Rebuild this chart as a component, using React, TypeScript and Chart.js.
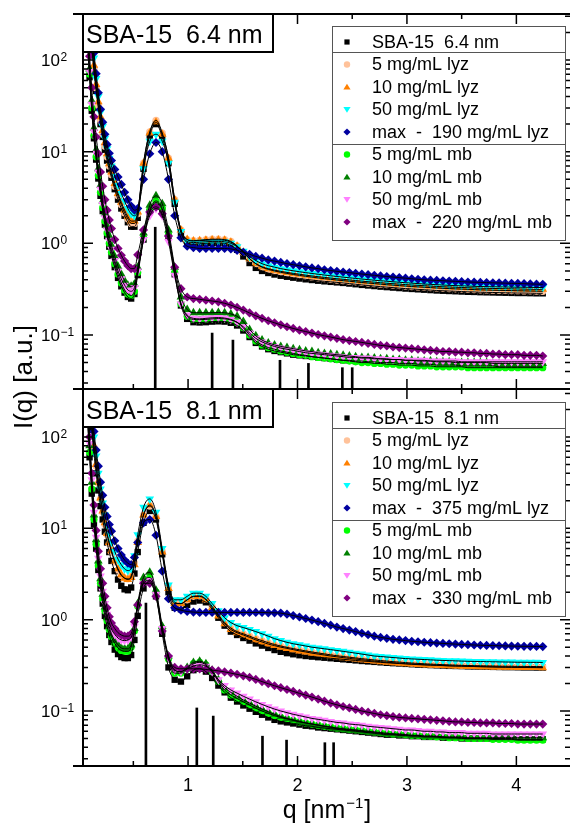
import React, { useEffect, useRef } from 'react';
import { Chart, registerables } from 'chart.js';

Chart.register(...registerables);

const W = 575;
const H = 824;
const FONT = '"Liberation Sans", Arial, Helvetica, sans-serif';

// ---------------- data ----------------
const Q = [
  0.08, 0.1, 0.12, 0.14, 0.16, 0.18, 0.2, 0.22, 0.24, 0.26, 0.28, 0.3,
  0.33, 0.36, 0.39, 0.42, 0.45, 0.48, 0.51, 0.54,
  0.593, 0.65, 0.707, 0.764, 0.821, 0.878, 0.935, 0.992,
  1.049, 1.106, 1.163, 1.22, 1.277, 1.334, 1.391, 1.448, 1.505, 1.562, 1.619, 1.676,
  1.733, 1.79, 1.847, 1.904, 1.961, 2.018, 2.075, 2.132, 2.189, 2.246, 2.303, 2.36,
  2.417, 2.474, 2.531, 2.588, 2.645, 2.702, 2.759, 2.816, 2.873, 2.93, 2.987, 3.044,
  3.101, 3.158, 3.215, 3.272, 3.329, 3.386, 3.443, 3.5, 3.557, 3.614, 3.671, 3.728,
  3.785, 3.842, 3.899, 3.956, 4.013, 4.07, 4.127, 4.184, 4.241,
];

// Top panel: SBA-15 6.4 nm
const T_SBA_HI = [
  600, 280, 140, 76, 46, 30, 20, 14.5, 10.5, 8.0, 6.4, 5.2,
  3.9, 3.0, 2.4, 2.0, 1.7, 1.52, 1.52, 1.9,
  6.5, 15, 20, 14.5, 7.5, 2.7, 1.3, 1.02,
  0.98, 0.99, 1.0, 1.01, 1.01, 1.0, 0.95, 0.85, 0.72, 0.61, 0.54, 0.5,
  0.475, 0.457, 0.443, 0.432, 0.422, 0.413, 0.405, 0.398, 0.391, 0.385, 0.38, 0.375,
  0.37, 0.364, 0.358, 0.352, 0.347, 0.342, 0.337, 0.333, 0.329, 0.325, 0.321, 0.318,
  0.315, 0.312, 0.309, 0.306, 0.304, 0.302, 0.3, 0.298, 0.296, 0.295, 0.293, 0.292,
  0.291, 0.29, 0.289, 0.288, 0.287, 0.287, 0.286, 0.285, 0.285,
];
const T_LYZ5 = [
  650, 300, 150, 82, 50, 32, 22, 15.5, 11.5, 8.8, 7.0, 5.6,
  4.2, 3.3, 2.65, 2.15, 1.85, 1.65, 1.65, 2.1,
  7.5, 16.5, 22, 16, 8.5, 3.0, 1.4, 1.1,
  1.07, 1.08, 1.1, 1.11, 1.11, 1.1, 1.05, 0.94, 0.8, 0.68, 0.6, 0.55,
  0.52, 0.5, 0.483, 0.47, 0.458, 0.447, 0.437, 0.428, 0.42, 0.412, 0.405, 0.398,
  0.392, 0.386, 0.38, 0.374, 0.369, 0.364, 0.359, 0.354, 0.35, 0.346, 0.342, 0.338,
  0.335, 0.332, 0.329, 0.326, 0.323, 0.321, 0.319, 0.317, 0.315, 0.313, 0.311, 0.31,
  0.308, 0.307, 0.306, 0.305, 0.304, 0.303, 0.302, 0.301, 0.3,
];
const T_LYZ10 = [
  700, 330, 160, 88, 54, 35, 24, 17, 12.5, 9.5, 7.4, 6.0,
  4.5, 3.5, 2.8, 2.3, 1.95, 1.75, 1.75, 2.2,
  7.5, 16, 21, 15.5, 8.5, 3.0, 1.4, 1.1,
  1.06, 1.07, 1.08, 1.09, 1.09, 1.08, 1.03, 0.93, 0.8, 0.68, 0.6, 0.555,
  0.53, 0.51, 0.495, 0.482, 0.47, 0.46, 0.45, 0.441, 0.433, 0.425, 0.418, 0.411,
  0.405, 0.399, 0.393, 0.387, 0.382, 0.377, 0.372, 0.367, 0.363, 0.359, 0.355, 0.351,
  0.348, 0.345, 0.342, 0.339, 0.336, 0.334, 0.332, 0.33, 0.328, 0.326, 0.324, 0.323,
  0.322, 0.321, 0.32, 0.319, 0.318, 0.317, 0.316, 0.315, 0.315,
];
const T_LYZ50 = [
  800, 380, 180, 105, 63, 40, 27, 19, 14, 10.8, 8.5, 7.0,
  5.4, 4.3, 3.5, 2.9, 2.4, 2.1, 2.0, 2.3,
  6.5, 13, 15.5, 13, 7.5, 2.8, 1.35, 1.05,
  1.02, 1.03, 1.04, 1.05, 1.05, 1.04, 1.0, 0.92, 0.82, 0.72, 0.65, 0.6,
  0.57, 0.55, 0.53, 0.515, 0.502, 0.49, 0.479, 0.469, 0.46, 0.451, 0.443, 0.435,
  0.428, 0.421, 0.414, 0.408, 0.402, 0.396, 0.391, 0.386, 0.381, 0.376, 0.372, 0.368,
  0.364, 0.36, 0.357, 0.354, 0.351, 0.348, 0.346, 0.344, 0.342, 0.34, 0.338, 0.337,
  0.336, 0.335, 0.334, 0.333, 0.332, 0.332, 0.331, 0.33, 0.33,
];
const T_LYZMAX = [
  900, 420, 200, 120, 71, 44, 29, 21, 15.5, 12, 9.6, 8.0,
  6.4, 5.3, 4.4, 3.6, 3.0, 2.55, 2.3, 2.4,
  5.0, 9.5, 12.6, 10, 5.0, 2.0, 1.15, 0.93,
  0.9, 0.88, 0.88, 0.88, 0.88, 0.88, 0.87, 0.84, 0.8, 0.76, 0.72, 0.69,
  0.66, 0.64, 0.62, 0.6, 0.585, 0.57, 0.555, 0.54, 0.53, 0.515, 0.505, 0.495,
  0.487, 0.48, 0.47, 0.463, 0.455, 0.448, 0.441, 0.435, 0.429, 0.423, 0.417, 0.411,
  0.405, 0.4, 0.397, 0.394, 0.391, 0.388, 0.385, 0.382, 0.379, 0.377, 0.375, 0.373,
  0.371, 0.37, 0.368, 0.366, 0.365, 0.363, 0.361, 0.359, 0.357,
];
const T_SBA_LO = [
  170, 65, 28, 14, 8.2, 5.1, 3.3, 2.25, 1.6, 1.2, 0.92, 0.73,
  0.55, 0.42, 0.34, 0.29, 0.26, 0.25, 0.28, 0.45,
  1.1, 2.2, 2.8, 2.3, 1.2, 0.46, 0.21, 0.15,
  0.138, 0.137, 0.138, 0.14, 0.141, 0.14, 0.136, 0.127, 0.112, 0.095, 0.082, 0.075,
  0.07, 0.067, 0.065, 0.063, 0.061, 0.06, 0.059, 0.058, 0.057, 0.056, 0.055, 0.054,
  0.053, 0.053, 0.052, 0.052, 0.051, 0.051, 0.05, 0.05, 0.05, 0.049, 0.049, 0.049,
  0.048, 0.048, 0.048, 0.047, 0.047, 0.047, 0.047, 0.046, 0.046, 0.046, 0.046, 0.046,
  0.046, 0.045, 0.045, 0.045, 0.045, 0.045, 0.045, 0.045, 0.045,
];
const T_MB5 = [
  180, 70, 30, 15, 8.8, 5.5, 3.6, 2.45, 1.75, 1.3, 1.0, 0.8,
  0.6, 0.46, 0.37, 0.31, 0.28, 0.27, 0.3, 0.48,
  1.15, 2.3, 2.9, 2.4, 1.25, 0.48, 0.22, 0.16,
  0.148, 0.147, 0.148, 0.15, 0.151, 0.15, 0.146, 0.137, 0.12, 0.1, 0.086, 0.078,
  0.073, 0.07, 0.067, 0.065, 0.063, 0.061, 0.06, 0.058, 0.057, 0.056, 0.055, 0.054,
  0.053, 0.052, 0.051, 0.05, 0.05, 0.049, 0.049, 0.048, 0.048, 0.047, 0.047, 0.047,
  0.046, 0.046, 0.046, 0.045, 0.045, 0.045, 0.045, 0.045, 0.044, 0.044, 0.044, 0.044,
  0.044, 0.044, 0.044, 0.044, 0.044, 0.044, 0.044, 0.044, 0.044,
];
const T_MB10 = [
  200, 80, 36, 18, 10.5, 6.5, 4.3, 2.9, 2.1, 1.55, 1.2, 0.95,
  0.72, 0.56, 0.46, 0.39, 0.35, 0.34, 0.36, 0.55,
  1.3, 2.6, 3.3, 2.7, 1.4, 0.55, 0.26, 0.19,
  0.175, 0.175, 0.175, 0.175, 0.176, 0.175, 0.17, 0.16, 0.14, 0.115, 0.098, 0.088,
  0.082, 0.078, 0.075, 0.073, 0.071, 0.069, 0.067, 0.066, 0.064, 0.063, 0.062, 0.061,
  0.06, 0.059, 0.058, 0.057, 0.057, 0.056, 0.055, 0.055, 0.054, 0.054, 0.053, 0.053,
  0.052, 0.052, 0.052, 0.051, 0.051, 0.051, 0.05, 0.05, 0.05, 0.05, 0.05, 0.05,
  0.049, 0.049, 0.049, 0.049, 0.049, 0.049, 0.049, 0.049, 0.049,
];
const T_MB50 = [
  190, 75, 33, 16.5, 9.6, 6.0, 3.9, 2.65, 1.9, 1.4, 1.08, 0.86,
  0.65, 0.5, 0.41, 0.35, 0.31, 0.3, 0.33, 0.5,
  1.1, 2.0, 2.4, 2.0, 1.05, 0.45, 0.22, 0.165,
  0.152, 0.15, 0.152, 0.154, 0.155, 0.153, 0.148, 0.138, 0.123, 0.105, 0.092, 0.084,
  0.079, 0.075, 0.072, 0.07, 0.068, 0.066, 0.064, 0.063, 0.062, 0.061, 0.06, 0.059,
  0.058, 0.057, 0.057, 0.056, 0.056, 0.055, 0.055, 0.054, 0.054, 0.054, 0.053, 0.053,
  0.053, 0.053, 0.052, 0.052, 0.052, 0.052, 0.052, 0.051, 0.051, 0.051, 0.051, 0.051,
  0.051, 0.051, 0.051, 0.051, 0.051, 0.051, 0.051, 0.051, 0.051,
];
const T_MBMAX = [
  250, 110, 50, 24, 14.5, 9.5, 6.0, 4.2, 3.0, 2.3, 1.8, 1.45,
  1.1, 0.88, 0.74, 0.64, 0.57, 0.53, 0.53, 0.75,
  1.4, 2.2, 2.5, 2.1, 1.2, 0.55, 0.32, 0.26,
  0.25, 0.245, 0.24, 0.235, 0.23, 0.222, 0.212, 0.2, 0.187, 0.174, 0.162, 0.152,
  0.143, 0.136, 0.129, 0.123, 0.118, 0.113, 0.109, 0.105, 0.101, 0.098, 0.095, 0.092,
  0.089, 0.087, 0.085, 0.083, 0.081, 0.079, 0.077, 0.076, 0.074, 0.073, 0.072, 0.071,
  0.07, 0.069, 0.068, 0.067, 0.066, 0.066, 0.065, 0.065, 0.064, 0.064, 0.063, 0.063,
  0.062, 0.062, 0.061, 0.061, 0.061, 0.06, 0.06, 0.06, 0.059,
];
const T_REFL_Q = [0.7, 1.22, 1.41, 1.84, 2.1, 2.41, 2.5];
const T_REFL_I = [1.5, 0.105, 0.088, 0.053, 0.049, 0.044, 0.044];

// Bottom panel: SBA-15 8.1 nm
const B_SBA_HI = [
  550, 250, 120, 66, 40, 26, 17.5, 12.5, 9.2, 7.0, 5.5, 4.4,
  3.4, 2.75, 2.35, 2.15, 2.1, 2.25, 3.2, 5.5,
  11.5, 15.5, 12.5, 5.2, 2.0, 1.35, 1.3, 1.45,
  1.58, 1.62, 1.55, 1.3, 1.05, 0.86, 0.74, 0.68, 0.63, 0.59, 0.55, 0.52,
  0.49, 0.465, 0.445, 0.43, 0.418, 0.408, 0.4, 0.394, 0.388, 0.383, 0.378, 0.373,
  0.368, 0.363, 0.358, 0.353, 0.349, 0.345, 0.341, 0.337, 0.334, 0.331, 0.328, 0.325,
  0.322, 0.32, 0.318, 0.316, 0.314, 0.312, 0.311, 0.31, 0.308, 0.307, 0.306, 0.305,
  0.304, 0.303, 0.302, 0.302, 0.301, 0.3, 0.3, 0.299, 0.299,
];
const B_LYZ5 = [
  620, 290, 140, 77, 48, 31, 21, 15, 11, 8.5, 6.8, 5.5,
  4.3, 3.5, 3.05, 2.85, 2.8, 3.0, 4.2, 7.2,
  14, 17.5, 13.5, 5.6, 2.3, 1.55, 1.5, 1.65,
  1.8, 1.82, 1.68, 1.4, 1.13, 0.93, 0.81, 0.74, 0.7, 0.66, 0.62, 0.59,
  0.56, 0.535, 0.515, 0.497, 0.482, 0.468, 0.455, 0.443, 0.432, 0.422, 0.412, 0.403,
  0.395, 0.388, 0.381, 0.374, 0.368, 0.362, 0.357, 0.352, 0.347, 0.343, 0.339, 0.335,
  0.332, 0.329, 0.326, 0.324, 0.322, 0.32, 0.318, 0.316, 0.315, 0.314, 0.313, 0.312,
  0.311, 0.31, 0.309, 0.309, 0.308, 0.308, 0.307, 0.307, 0.306,
];
const B_LYZ10 = [
  650, 300, 145, 80, 50, 32, 21.5, 15.5, 11.5, 8.8, 7.0, 5.7,
  4.4, 3.6, 3.1, 2.85, 2.75, 2.9, 4.0, 7.0,
  14, 18, 13.5, 5.5, 2.2, 1.5, 1.5, 1.65,
  1.8, 1.8, 1.65, 1.35, 1.1, 0.9, 0.78, 0.72, 0.68, 0.64, 0.6, 0.57,
  0.54, 0.52, 0.5, 0.485, 0.47, 0.455, 0.443, 0.43, 0.42, 0.41, 0.4, 0.392,
  0.384, 0.377, 0.37, 0.364, 0.358, 0.352, 0.347, 0.342, 0.338, 0.334, 0.33, 0.327,
  0.324, 0.321, 0.319, 0.317, 0.315, 0.313, 0.311, 0.31, 0.308, 0.307, 0.306, 0.305,
  0.304, 0.303, 0.302, 0.301, 0.3, 0.3, 0.299, 0.299, 0.298,
];
const B_LYZ50 = [
  800, 380, 180, 100, 62, 40, 27, 19, 14, 10.8, 8.6, 7.1,
  5.6, 4.6, 4.0, 3.6, 3.45, 3.6, 5.0, 8.5,
  17, 21, 15, 6.0, 2.4, 1.65, 1.65, 1.8,
  1.95, 1.95, 1.8, 1.5, 1.25, 1.05, 0.93, 0.86, 0.82, 0.78, 0.74, 0.7,
  0.66, 0.62, 0.59, 0.565, 0.545, 0.53, 0.515, 0.5, 0.49, 0.48, 0.47, 0.46,
  0.45, 0.44, 0.43, 0.42, 0.41, 0.4, 0.395, 0.39, 0.385, 0.38, 0.375, 0.372,
  0.369, 0.366, 0.363, 0.36, 0.358, 0.356, 0.354, 0.352, 0.35, 0.349, 0.348, 0.347,
  0.346, 0.345, 0.344, 0.343, 0.342, 0.342, 0.341, 0.341, 0.34,
];
const B_LYZMAX = [
  900, 400, 200, 115, 72, 48, 32, 23, 17, 13.5, 11, 9.3,
  7.3, 6.0, 5.1, 4.5, 4.15, 4.0, 4.8, 7.0,
  11.5, 12.5, 8.4, 3.4, 1.7, 1.35, 1.27, 1.23,
  1.21, 1.2, 1.2, 1.2, 1.2, 1.2, 1.2, 1.2, 1.2, 1.2, 1.2, 1.2,
  1.19, 1.19, 1.18, 1.15, 1.11, 1.07, 1.03, 0.99, 0.95, 0.91, 0.87, 0.83,
  0.8, 0.77, 0.74, 0.71, 0.685, 0.66, 0.64, 0.625, 0.61, 0.6, 0.59, 0.58,
  0.573, 0.566, 0.56, 0.555, 0.55, 0.545, 0.54, 0.536, 0.532, 0.528, 0.525, 0.522,
  0.52, 0.518, 0.516, 0.514, 0.512, 0.511, 0.51, 0.509, 0.508,
];
const B_SBA_LO = [
  160, 60, 24, 11, 6.0, 3.5, 2.2, 1.5, 1.1, 0.85, 0.68, 0.57,
  0.47, 0.42, 0.39, 0.38, 0.38, 0.41, 0.6, 1.1,
  2.2, 2.6, 1.8, 0.7, 0.3, 0.22, 0.21, 0.24,
  0.28, 0.29, 0.27, 0.23, 0.19, 0.16, 0.14, 0.127, 0.115, 0.106, 0.098, 0.091,
  0.085, 0.08, 0.077, 0.075, 0.073, 0.071, 0.069, 0.068, 0.066, 0.065, 0.064, 0.063,
  0.062, 0.061, 0.06, 0.059, 0.058, 0.057, 0.056, 0.055, 0.055, 0.054, 0.054, 0.053,
  0.053, 0.052, 0.052, 0.052, 0.051, 0.051, 0.051, 0.05, 0.05, 0.05, 0.05, 0.05,
  0.05, 0.05, 0.05, 0.05, 0.049, 0.049, 0.049, 0.049, 0.049,
];
const B_MB5 = [
  180, 68, 27, 12.5, 6.7, 3.9, 2.5, 1.7, 1.25, 0.97, 0.78, 0.65,
  0.55, 0.49, 0.46, 0.45, 0.45, 0.5, 0.75, 1.4,
  2.6, 2.9, 2.0, 0.8, 0.37, 0.26, 0.26, 0.29,
  0.33, 0.34, 0.32, 0.27, 0.21, 0.17, 0.15, 0.137, 0.126, 0.116, 0.107, 0.1,
  0.094, 0.089, 0.085, 0.082, 0.079, 0.076, 0.074, 0.072, 0.07, 0.068, 0.067, 0.065,
  0.064, 0.063, 0.062, 0.061, 0.06, 0.059, 0.058, 0.057, 0.056, 0.056, 0.055, 0.054,
  0.054, 0.053, 0.053, 0.052, 0.052, 0.051, 0.051, 0.051, 0.05, 0.05, 0.05, 0.05,
  0.049, 0.049, 0.049, 0.049, 0.048, 0.048, 0.048, 0.048, 0.048,
];
const B_MB10 = [
  200, 80, 32, 14, 7.5, 4.4, 2.8, 1.9, 1.38, 1.05, 0.84, 0.7,
  0.59, 0.53, 0.49, 0.48, 0.48, 0.53, 0.8, 1.5,
  2.9, 3.3, 2.1, 0.85, 0.4, 0.28, 0.27, 0.3,
  0.34, 0.35, 0.33, 0.28, 0.22, 0.18, 0.16, 0.145, 0.132, 0.122, 0.113, 0.105,
  0.098, 0.092, 0.087, 0.083, 0.08, 0.077, 0.074, 0.072, 0.07, 0.068, 0.066, 0.064,
  0.063, 0.062, 0.061, 0.06, 0.059, 0.058, 0.057, 0.056, 0.056, 0.055, 0.055, 0.054,
  0.054, 0.053, 0.053, 0.053, 0.052, 0.052, 0.052, 0.052, 0.051, 0.051, 0.051, 0.051,
  0.051, 0.051, 0.051, 0.051, 0.051, 0.051, 0.051, 0.051, 0.051,
];
const B_MB50 = [
  210, 85, 34, 15, 8.0, 4.7, 3.0, 2.05, 1.5, 1.15, 0.93, 0.79,
  0.69, 0.63, 0.6, 0.59, 0.6, 0.64, 0.85, 1.4,
  2.5, 2.7, 1.9, 0.8, 0.38, 0.28, 0.27, 0.29,
  0.31, 0.32, 0.31, 0.27, 0.22, 0.19, 0.17, 0.157, 0.145, 0.135, 0.126, 0.118,
  0.111, 0.105, 0.1, 0.096, 0.092, 0.089, 0.086, 0.083, 0.081, 0.079, 0.077, 0.075,
  0.074, 0.072, 0.071, 0.07, 0.068, 0.067, 0.066, 0.065, 0.064, 0.063, 0.062, 0.062,
  0.061, 0.06, 0.06, 0.059, 0.059, 0.058, 0.058, 0.058, 0.057, 0.057, 0.057, 0.057,
  0.056, 0.056, 0.056, 0.056, 0.056, 0.056, 0.056, 0.056, 0.056,
];
const B_MBMAX = [
  250, 100, 40, 18, 9.5, 5.6, 3.6, 2.5, 1.8, 1.35, 1.08, 0.92,
  0.8, 0.72, 0.68, 0.66, 0.66, 0.7, 0.95, 1.45,
  2.5, 2.5, 1.8, 0.75, 0.4, 0.3, 0.29, 0.29,
  0.29, 0.29, 0.285, 0.28, 0.275, 0.268, 0.26, 0.252, 0.243, 0.233, 0.222, 0.21,
  0.199, 0.189, 0.18, 0.172, 0.164, 0.156, 0.149, 0.142, 0.135, 0.128, 0.122, 0.117,
  0.112, 0.108, 0.104, 0.1, 0.097, 0.094, 0.091, 0.089, 0.087, 0.085, 0.084, 0.083,
  0.082, 0.081, 0.08, 0.079, 0.078, 0.077, 0.076, 0.076, 0.075, 0.075, 0.074, 0.074,
  0.074, 0.073, 0.073, 0.073, 0.072, 0.072, 0.072, 0.072, 0.072,
];
const B_REFL_Q = [0.615, 1.08, 1.23, 1.68, 1.9, 2.25, 2.33];
const B_REFL_I = [1.52, 0.108, 0.088, 0.053, 0.048, 0.045, 0.045];

// axes / text
const X_TICKS = [0.5, 1, 1.5, 2, 2.5, 3, 3.5, 4];
const X_LABELS = [1, 2, 3, 4];
const Y_DECADES = [-1, 0, 1, 2];
const X_TITLE = ['q [nm', '\u22121', ']'];
const Y_TITLE = 'I(q) [a.u.]';
const PANEL_LABEL_TOP = 'SBA-15  6.4 nm';
const PANEL_LABEL_BOTTOM = 'SBA-15  8.1 nm';
const LEGEND_KEYS = ['sba', 'lyz5', 'lyz10', 'lyz50', 'lyzmax', 'mb5', 'mb10', 'mb50', 'mbmax'];
const LEGEND_TOP = [
  'SBA-15  6.4 nm', '5 mg/mL lyz', '10 mg/mL lyz', '50 mg/mL lyz', 'max  -  190 mg/mL lyz',
  '5 mg/mL mb', '10 mg/mL mb', '50 mg/mL mb', 'max  -  220 mg/mL mb',
];
const LEGEND_BOTTOM = [
  'SBA-15  8.1 nm', '5 mg/mL lyz', '10 mg/mL lyz', '50 mg/mL lyz', 'max  -  375 mg/mL lyz',
  '5 mg/mL mb', '10 mg/mL mb', '50 mg/mL mb', 'max  -  330 mg/mL mb',
];

// ---------------- styles ----------------
const STY: Record<string, any> = {
  sba: { pointStyle: 'rect', rot: 0, r: 4.5, color: '#000000', order: 20 },
  lyz5: { pointStyle: 'circle', rot: 0, r: 3.6, color: '#FFC29A', order: 19 },
  lyz10: { pointStyle: 'triangle', rot: 0, r: 5, color: '#FF8000', order: 18 },
  lyz50: { pointStyle: 'triangle', rot: 180, r: 5, color: '#00FFFF', order: 17 },
  lyzmax: { pointStyle: 'rectRot', rot: 0, r: 4.6, color: '#0000A0', order: 13 },
  mb5: { pointStyle: 'circle', rot: 0, r: 3.6, color: '#00FF00', order: 16 },
  mb10: { pointStyle: 'triangle', rot: 0, r: 5, color: '#008000', order: 15 },
  mb50: { pointStyle: 'triangle', rot: 180, r: 5, color: '#FF80FF', order: 14 },
  mbmax: { pointStyle: 'rectRot', rot: 0, r: 4.6, color: '#800080', order: 12 },
};

const TOP_PANEL = {
  series: [
    { vals: T_SBA_HI, key: 'sba' }, { vals: T_SBA_LO, key: 'sba' },
    { vals: T_LYZ5, key: 'lyz5' }, { vals: T_LYZ10, key: 'lyz10' },
    { vals: T_LYZ50, key: 'lyz50' }, { vals: T_LYZMAX, key: 'lyzmax' },
    { vals: T_MB5, key: 'mb5' }, { vals: T_MB10, key: 'mb10' },
    { vals: T_MB50, key: 'mb50' }, { vals: T_MBMAX, key: 'mbmax' },
  ],
  reflQ: T_REFL_Q, reflI: T_REFL_I,
  yMin: 0.02576, yMax: 318,
  padding: { left: 83, right: 0, top: 14, bottom: H - 389 },
  label: PANEL_LABEL_TOP, legend: LEGEND_TOP, legendOffset: 12, labelBase: 29,
  bottomAxis: false,
};
const BOTTOM_PANEL = {
  series: [
    { vals: B_SBA_HI, key: 'sba' }, { vals: B_SBA_LO, key: 'sba' },
    { vals: B_LYZ5, key: 'lyz5' }, { vals: B_LYZ10, key: 'lyz10' },
    { vals: B_LYZ50, key: 'lyz50' }, { vals: B_LYZMAX, key: 'lyzmax' },
    { vals: B_MB5, key: 'mb5' }, { vals: B_MB10, key: 'mb10' },
    { vals: B_MB50, key: 'mb50' }, { vals: B_MBMAX, key: 'mbmax' },
  ],
  reflQ: B_REFL_Q, reflI: B_REFL_I,
  yMin: 0.025, yMax: 335.5,
  padding: { left: 83, right: 0, top: 389, bottom: H - 766 },
  label: PANEL_LABEL_BOTTOM, legend: LEGEND_BOTTOM, legendOffset: 13, labelBase: 30,
  bottomAxis: true,
};

function drawMarker(ctx: CanvasRenderingContext2D, key: string, x: number, y: number) {
  const s = STY[key];
  const r = 3.6;
  ctx.fillStyle = s.color;
  ctx.beginPath();
  if (s.pointStyle === 'rect') ctx.rect(x - 2.6, y - 2.6, 5.2, 5.2);
  else if (s.pointStyle === 'circle') ctx.arc(x, y, 3.2, 0, Math.PI * 2);
  else if (s.pointStyle === 'rectRot') {
    ctx.moveTo(x, y - r); ctx.lineTo(x + r, y); ctx.lineTo(x, y + r); ctx.lineTo(x - r, y);
  } else if (s.rot === 180) {
    ctx.moveTo(x - r, y - r * 0.7); ctx.lineTo(x + r, y - r * 0.7); ctx.lineTo(x, y + r * 0.9);
  } else {
    ctx.moveTo(x - r, y + r * 0.7); ctx.lineTo(x + r, y + r * 0.7); ctx.lineTo(x, y - r * 0.9);
  }
  ctx.closePath();
  ctx.fill();
}

function framePlugin(p: any) {
  return {
    id: 'frame',
    afterDraw(chart: any) {
      const ctx: CanvasRenderingContext2D = chart.ctx;
      const a = chart.chartArea;
      const xs = chart.scales.x;
      const ys = chart.scales.y;
      ctx.save();
      ctx.strokeStyle = '#000';
      ctx.fillStyle = '#000';

      // ticks (inward)
      ctx.lineWidth = 1.5;
      ctx.beginPath();
      for (const v of X_TICKS) {
        const px = xs.getPixelForValue(v);
        if (px < a.left + 1 || px > a.right - 1) continue;
        const len = Number.isInteger(v) ? 10 : 5;
        ctx.moveTo(px, a.top); ctx.lineTo(px, a.top + len);
        ctx.moveTo(px, a.bottom); ctx.lineTo(px, a.bottom - len);
      }
      for (let d = -3; d <= 3; d++) {
        for (let m = 1; m <= 9; m++) {
          const v = m * Math.pow(10, d);
          if (v < ys.min || v > ys.max) continue;
          const py = ys.getPixelForValue(v);
          const len = m === 1 ? 10 : 5;
          ctx.moveTo(a.left, py); ctx.lineTo(a.left + len, py);
          ctx.moveTo(a.right, py); ctx.lineTo(a.right - len, py);
        }
      }
      ctx.stroke();

      // axis lines
      ctx.lineWidth = 2;
      ctx.beginPath();
      ctx.moveTo(73, a.top); ctx.lineTo(a.right, a.top);
      ctx.moveTo(73, a.bottom); ctx.lineTo(a.right, a.bottom);
      ctx.moveTo(a.left, a.top); ctx.lineTo(a.left, a.bottom);
      ctx.stroke();

      // y tick labels
      for (const d of Y_DECADES) {
        const py = ys.getPixelForValue(Math.pow(10, d));
        ctx.fillStyle = '#000';
        ctx.textBaseline = 'alphabetic';
        ctx.font = `17px ${FONT}`;
        ctx.textAlign = 'right';
        ctx.fillText('10', 60, py + 6);
        ctx.font = `12px ${FONT}`;
        ctx.textAlign = 'left';
        ctx.fillText(d < 0 ? '\u2212' + String(-d) : String(d), 60.5, py + 1);
      }

      // panel label box
      const bx = a.left, by = a.top, bw = 190, bh = 38;
      ctx.fillStyle = '#fff';
      ctx.fillRect(bx, by, bw, bh);
      ctx.lineWidth = 2;
      ctx.strokeStyle = '#000';
      ctx.strokeRect(bx, by, bw, bh);
      ctx.fillStyle = '#000';
      ctx.font = `25px ${FONT}`;
      ctx.textAlign = 'left';
      ctx.textBaseline = 'alphabetic';
      ctx.fillText(p.label, bx + 3, by + p.labelBase);

      // legend
      const lx = 332, lw = 233, lh = 214;
      const ly = a.top + p.legendOffset;
      ctx.fillStyle = '#fff';
      ctx.fillRect(lx, ly, lw, lh);
      ctx.strokeStyle = '#555';
      ctx.lineWidth = 1;
      ctx.strokeRect(lx + 0.5, ly + 0.5, lw, lh);
      ctx.beginPath();
      ctx.moveTo(lx, ly + 26.5); ctx.lineTo(lx + lw, ly + 26.5);
      ctx.moveTo(lx, ly + 118.5); ctx.lineTo(lx + lw, ly + 118.5);
      ctx.stroke();
      ctx.font = `18px ${FONT}`;
      ctx.textBaseline = 'middle';
      ctx.textAlign = 'left';
      p.legend.forEach((txt: string, i: number) => {
        const ry = ly + 16 + i * 22.5;
        drawMarker(ctx, LEGEND_KEYS[i], 347, ry);
        ctx.fillStyle = '#000';
        ctx.fillText(txt, 372, ry + 1);
      });

      if (p.bottomAxis) {
        ctx.fillStyle = '#000';
        ctx.font = `18px ${FONT}`;
        ctx.textAlign = 'center';
        ctx.textBaseline = 'middle';
        for (const v of X_LABELS) ctx.fillText(String(v), xs.getPixelForValue(v), 786);

        // x title
        ctx.textAlign = 'left';
        ctx.textBaseline = 'alphabetic';
        ctx.font = `25px ${FONT}`;
        const w1 = ctx.measureText(X_TITLE[0]).width;
        const w3 = ctx.measureText(X_TITLE[2]).width;
        ctx.font = `15px ${FONT}`;
        const w2 = ctx.measureText(X_TITLE[1]).width;
        const start = 326 - (w1 + w2 + w3) / 2;
        ctx.font = `25px ${FONT}`;
        ctx.fillText(X_TITLE[0], start, 818);
        ctx.font = `15px ${FONT}`;
        ctx.fillText(X_TITLE[1], start + w1 + 1, 808);
        ctx.font = `25px ${FONT}`;
        ctx.fillText(X_TITLE[2], start + w1 + w2 + 2, 818);

        // y title
        ctx.save();
        ctx.translate(25, 377);
        ctx.rotate(-Math.PI / 2);
        ctx.font = `26px ${FONT}`;
        ctx.textAlign = 'center';
        ctx.textBaseline = 'middle';
        ctx.fillText(Y_TITLE, 0, 0);
        ctx.restore();
      }
      ctx.restore();
    },
  };
}

function buildConfig(p: any) {
  const datasets: any[] = [];
  datasets.push({
    type: 'bar',
    data: p.reflQ.map((x: number, i: number) => ({ x, y: p.reflI[i] })),
    backgroundColor: '#000',
    borderWidth: 0,
    barThickness: 2,
    base: p.yMin,
    order: 30,
  });
  for (const s of p.series) {
    const st = STY[s.key];
    const pts = Q.map((x, i) => ({ x, y: s.vals[i] }));
    datasets.push({
      type: 'scatter',
      data: pts,
      showLine: false,
      pointStyle: st.pointStyle,
      pointRotation: st.rot,
      pointRadius: st.r,
      pointHoverRadius: st.r,
      pointBackgroundColor: st.color,
      pointBorderColor: st.color,
      pointBorderWidth: 0,
      order: st.order,
    });
    datasets.push({
      type: 'scatter',
      data: pts,
      showLine: true,
      pointRadius: 0,
      pointHoverRadius: 0,
      borderColor: '#000',
      borderWidth: 1,
      cubicInterpolationMode: 'monotone',
      order: 1,
    });
  }
  return {
    type: 'scatter',
    data: { datasets },
    options: {
      animation: false,
      responsive: false,
      maintainAspectRatio: false,
      devicePixelRatio: 1,
      events: [],
      layout: { padding: p.padding },
      plugins: { legend: { display: false }, tooltip: { enabled: false }, title: { display: false } },
      scales: {
        x: {
          type: 'linear', min: 0.04, max: 4.49, display: false, bounds: 'data',
          offset: false, grid: { offset: false },
        },
        y: { type: 'logarithmic', min: p.yMin, max: p.yMax, display: false, bounds: 'data', beginAtZero: false },
      },
    },
    plugins: [framePlugin(p)],
  };
}

export default function App() {
  const topRef = useRef<HTMLCanvasElement>(null);
  const botRef = useRef<HTMLCanvasElement>(null);
  useEffect(() => {
    const c1 = new Chart(topRef.current as HTMLCanvasElement, buildConfig(TOP_PANEL) as any);
    const c2 = new Chart(botRef.current as HTMLCanvasElement, buildConfig(BOTTOM_PANEL) as any);
    return () => {
      c1.destroy();
      c2.destroy();
    };
  }, []);
  const cs: React.CSSProperties = { position: 'absolute', left: 0, top: 0, width: W, height: H };
  return (
    <div style={{ position: 'absolute', left: 0, top: 0, width: W, height: H, background: '#fff' }}>
      <canvas ref={topRef} width={W} height={H} style={cs} />
      <canvas ref={botRef} width={W} height={H} style={cs} />
    </div>
  );
}
